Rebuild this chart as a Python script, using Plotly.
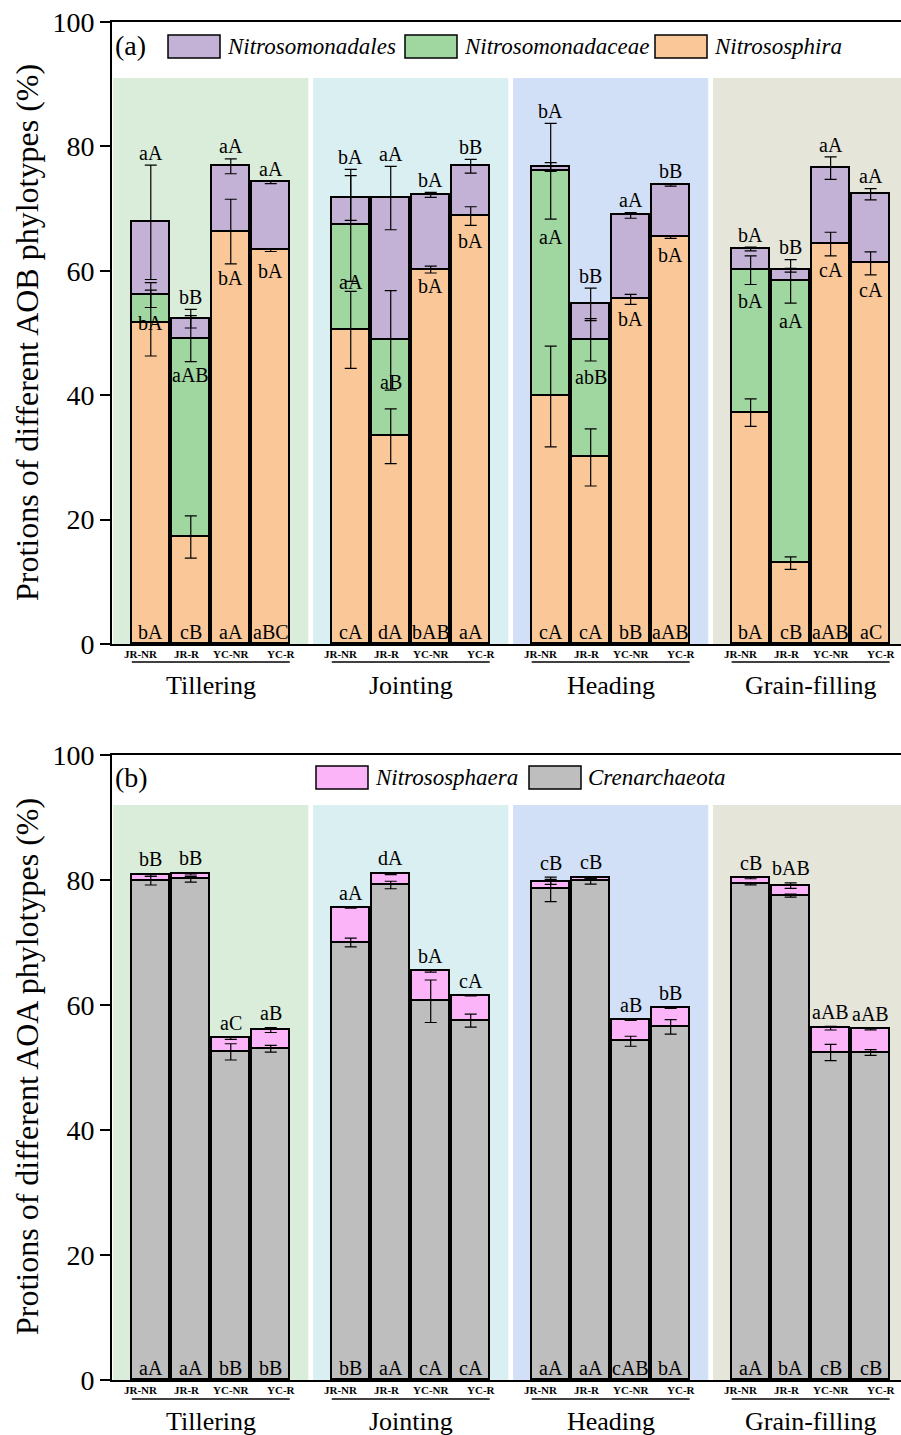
import numpy as np
import plotly.graph_objects as go

SERIF = "Liberation Serif, Times New Roman, serif"

stages = ["Tillering", "Jointing", "Heading", "Grain-filling"]
treatments = ["JR-NR", "JR-R", "YC-NR", "YC-R"]

# ---------------- AOB (panel a): 16 bars, stage-major, treatment-minor ----------------
nitrososphira = [51.6, 17.2, 66.3, 63.3,
                 50.5, 33.4, 60.2, 68.8,
                 39.8, 30.0, 55.4, 65.4,
                 37.2, 13.0, 64.3, 61.2]
nitrosomonadaceae = [4.5, 31.9, 0.0, 0.0,
                     16.8, 15.4, 0.0, 0.0,
                     36.2, 18.9, 0.0, 0.0,
                     22.9, 45.3, 0.0, 0.0]
nitrosomonadales = [11.7, 3.2, 10.5, 10.9,
                    4.4, 22.9, 12.0, 8.0,
                    0.7, 5.7, 13.5, 8.4,
                    3.4, 1.8, 12.2, 11.1]
nitrososphira_err = [5.3, 3.4, 5.2, 0.2,
                     6.2, 4.4, 0.55, 1.5,
                     8.1, 4.6, 0.8, 0.2,
                     2.2, 1.0, 1.9, 1.85]
nitrosomonadaceae_err = [2.0, 3.7, 0.0, 0.0,
                         9.0, 8.0, 0.0, 0.0,
                         7.7, 3.4, 0.0, 0.0,
                         2.3, 3.5, 0.0, 0.0]
nitrosomonadales_err = [9.2, 1.5, 1.2, 0.2,
                        3.6, 5.1, 0.4, 1.1,
                        0.7, 2.6, 0.45, 0.2,
                        0.3, 0.3, 1.8, 0.9]
aob_top_letters = ["aA", "bB", "aA", "aA", "bA", "aA", "bA", "bB",
                   "bA", "bB", "aA", "bB", "bA", "bB", "aA", "aA"]
aob_mid_letters = ["bA", "aAB", "bA", "bA", "aA", "aB", "bA", "bA",
                   "aA", "abB", "bA", "bA", "bA", "aA", "cA", "cA"]
aob_mid_letter_y = [51.6, 43.3, 58.8, 60.0, 58.2, 42.2, 57.5, 64.8,
                    65.4, 42.9, 52.3, 62.6, 55.1, 52.0, 60.1, 56.9]
aob_bottom_letters = ["bA", "cB", "aA", "aBC", "cA", "dA", "bAB", "aA",
                      "cA", "cA", "bB", "aAB", "bA", "cB", "aAB", "aC"]

# ---------------- AOA (panel b) ----------------
crenarchaeota = [79.9, 80.1, 52.5, 53.0,
                 70.0, 79.2, 60.6, 57.5,
                 78.5, 79.8, 54.2, 56.5,
                 79.3, 77.5, 52.4, 52.4]
nitrososphaera = [0.9, 0.9, 2.2, 3.0,
                  5.6, 1.8, 4.8, 4.0,
                  1.2, 0.6, 3.4, 3.0,
                  1.0, 1.6, 3.9, 3.7]
crenarchaeota_err = [0.7, 0.45, 1.3, 0.55,
                     0.7, 0.6, 3.4, 1.05,
                     1.95, 0.45, 0.8, 1.15,
                     0.1, 0.25, 1.3, 0.45]
nitrososphaera_err = [0.2, 0.2, 0.2, 0.4,
                      0.1, 0.15, 0.15, 0.05,
                      0.4, 0.15, 0.05, 0.05,
                      0.1, 0.45, 0.3, 0.1]
aoa_top_letters = ["bB", "bB", "aC", "aB", "aA", "dA", "bA", "cA",
                   "cB", "cB", "aB", "bB", "cB", "bAB", "aAB", "aAB"]
aoa_bottom_letters = ["aA", "aA", "bB", "bB", "bB", "aA", "cA", "cA",
                      "aA", "aA", "cAB", "bA", "aA", "bA", "cB", "cB"]

# ---------------- colours ----------------
C_ORANGE = "#FAC898"
C_GREEN = "#A0D6A0"
C_PURPLE = "#C3B2D6"
C_PINK = "#FBB4F7"
C_GRAY = "#BEBEBE"
BG = ["#DAEDDA", "#DAEFF2", "#D2E0F7", "#E5E5DA"]

W, H = 901, 1435
GROUP_STEP = 5
BAR_W = 0.95
xs = np.array([g * GROUP_STEP + i for g in range(len(stages)) for i in range(len(treatments))], float)
group_centers = [g * GROUP_STEP + 1.5 for g in range(len(stages))]


def py(pix):
    """Convert a pixel row (from top) to paper fraction."""
    return (H - pix) / H


def px(pix):
    return pix / W


fig = go.Figure()


def add_stack(series, colors, xa, ya):
    for vals, col in zip(series, colors):
        fig.add_trace(go.Bar(
            x=xs, y=vals, width=BAR_W, xaxis=xa, yaxis=ya,
            marker=dict(color=col, line=dict(color="black", width=1.6)),
            showlegend=False, hoverinfo="skip"))


def add_errors(series, errs, xa, ya):
    cum = np.zeros(len(xs))
    tops = []
    for vals, err in zip(series, errs):
        v = np.array(vals, float)
        cum = cum + v
        y = np.where(v > 0, cum, np.nan)
        tops.append((y, np.array(err, float)))
        fig.add_trace(go.Scatter(
            x=xs, y=y, mode="markers", xaxis=xa, yaxis=ya,
            marker=dict(size=1, opacity=0),
            error_y=dict(type="data", array=err, visible=True,
                         color="black", thickness=1.2, width=6),
            showlegend=False, hoverinfo="skip"))
    hi = np.nanmax(np.vstack([t + e for t, e in tops]), axis=0)
    return hi


# panel a
aob_series = [nitrososphira, nitrosomonadaceae, nitrosomonadales]
add_stack(aob_series, [C_ORANGE, C_GREEN, C_PURPLE], "x", "y")
aob_hi = add_errors(aob_series, [nitrososphira_err, nitrosomonadaceae_err, nitrosomonadales_err], "x", "y")

# panel b
aoa_series = [crenarchaeota, nitrososphaera]
add_stack(aoa_series, [C_GRAY, C_PINK], "x2", "y2")
aoa_hi = add_errors(aoa_series, [crenarchaeota_err, nitrososphaera_err], "x2", "y2")

annotations = []
shapes = []

LETTER_FONT = dict(family=SERIF, size=20, color="black")


def letter(x, y, text, xr, yr):
    annotations.append(dict(x=x, y=y, xref=xr, yref=yr, text=text, showarrow=False,
                            font=LETTER_FONT, xanchor="center", yanchor="middle"))


for i, x in enumerate(xs):
    letter(x, aob_hi[i] + 2.0, aob_top_letters[i], "x", "y")
    letter(x, aob_mid_letter_y[i], aob_mid_letters[i], "x", "y")
    letter(x, 1.9, aob_bottom_letters[i], "x", "y")
    letter(x, aoa_hi[i] + 2.3, aoa_top_letters[i], "x2", "y2")
    letter(x, 1.9, aoa_bottom_letters[i], "x2", "y2")

# stage background panels
for g, gc in enumerate(group_centers):
    for xr, yr, ytop in (("x", "y", 91), ("x2", "y2", 92)):
        shapes.append(dict(type="rect", xref=xr, yref=yr, x0=gc - 2.44, x1=gc + 2.44,
                           y0=0, y1=ytop, fillcolor=BG[g], line=dict(width=0), layer="below"))

# treatment labels, stage underlines and stage names
label_shift = [-0.24, -0.09, 0.0, 0.26]
panel_rows = [  # (xref, treatment label row, underline row, stage name row)
    ("x", 654, 662, 685),
    ("x2", 1390, 1399, 1421),
]
for xr, trow, urow, srow in panel_rows:
    for g, stage in enumerate(stages):
        x0 = g * GROUP_STEP
        for i, t in enumerate(treatments):
            annotations.append(dict(x=x0 + i + label_shift[i], y=py(trow), xref=xr, yref="paper",
                                    text="<b>%s</b>" % t, showarrow=False,
                                    font=dict(family=SERIF, size=11, color="black"),
                                    xanchor="center", yanchor="middle"))
        shapes.append(dict(type="line", xref=xr, yref="paper",
                           x0=x0 - BAR_W / 2, x1=x0 + 3 + BAR_W / 2,
                           y0=py(urow), y1=py(urow), line=dict(color="black", width=1.5)))
        annotations.append(dict(x=x0 + 1.5, y=py(srow), xref=xr, yref="paper", text=stage,
                                showarrow=False, font=dict(family=SERIF, size=26, color="black"),
                                xanchor="center", yanchor="middle"))

# y-axis titles
for ycen, txt in ((333, "Protions of different AOB phylotypes (%)"),
                  (1067, "Protions of different AOA phylotypes (%)")):
    annotations.append(dict(x=px(27), y=py(ycen), xref="paper", yref="paper", text=txt,
                            textangle=-90, showarrow=False,
                            font=dict(family=SERIF, size=32, color="black"),
                            xanchor="center", yanchor="middle"))

# panel tags
for ycen, txt in ((46, "(a)"), (778, "(b)")):
    annotations.append(dict(x=px(113), y=py(ycen), xref="paper", yref="paper", text=txt,
                            showarrow=False, font=dict(family=SERIF, size=28, color="black"),
                            xanchor="left", yanchor="middle"))

# legends (swatch + italic name)
legend_items = [
    (35, 58, [(168, 220, C_PURPLE, "Nitrosomonadales"),
              (405, 457, C_GREEN, "Nitrosomonadaceae"),
              (655, 707, C_ORANGE, "Nitrososphira")]),
    (766, 789, [(316, 368, C_PINK, "Nitrososphaera"),
                (529, 581, C_GRAY, "Crenarchaeota")]),
]
for top, bot, items in legend_items:
    for x0, x1, col, name in items:
        shapes.append(dict(type="rect", xref="paper", yref="paper",
                           x0=px(x0), x1=px(x1), y0=py(bot), y1=py(top),
                           fillcolor=col, line=dict(color="black", width=1.5)))
        annotations.append(dict(x=px(x1 + 5), y=py((top + bot) / 2), xref="paper", yref="paper",
                                text="<i>%s</i>" % name, showarrow=False,
                                font=dict(family=SERIF, size=23, color="black"),
                                xanchor="left", yanchor="middle"))

x_range = [-0.97, 18.76]
x_dom = [px(112), 1.0]
xaxis_common = dict(range=x_range, domain=x_dom, showline=True, linewidth=2, linecolor="black",
                    mirror=True, ticks="", showticklabels=False, showgrid=False, zeroline=False,
                    fixedrange=True, automargin=False)
yaxis_common = dict(range=[0, 100], tickvals=[0, 20, 40, 60, 80, 100], ticks="outside",
                    ticklen=10, tickwidth=2, tickcolor="black", showline=True, linewidth=2,
                    linecolor="black", showgrid=False, zeroline=False,
                    tickfont=dict(family=SERIF, size=28, color="black"), fixedrange=True,
                    automargin=False)

fig.update_layout(
    width=W, height=H,
    margin=dict(l=0, r=0, t=0, b=0, pad=0, autoexpand=False),
    paper_bgcolor="white", plot_bgcolor="white",
    barmode="stack", bargap=0,
    xaxis=dict(anchor="y", **xaxis_common),
    yaxis=dict(anchor="x", domain=[py(644), py(22)], **yaxis_common),
    xaxis2=dict(anchor="y2", **xaxis_common),
    yaxis2=dict(anchor="x2", domain=[py(1380), py(755)], **yaxis_common),
    annotations=annotations,
    shapes=shapes,
    showlegend=False,
)

fig.write_html("out.html")
